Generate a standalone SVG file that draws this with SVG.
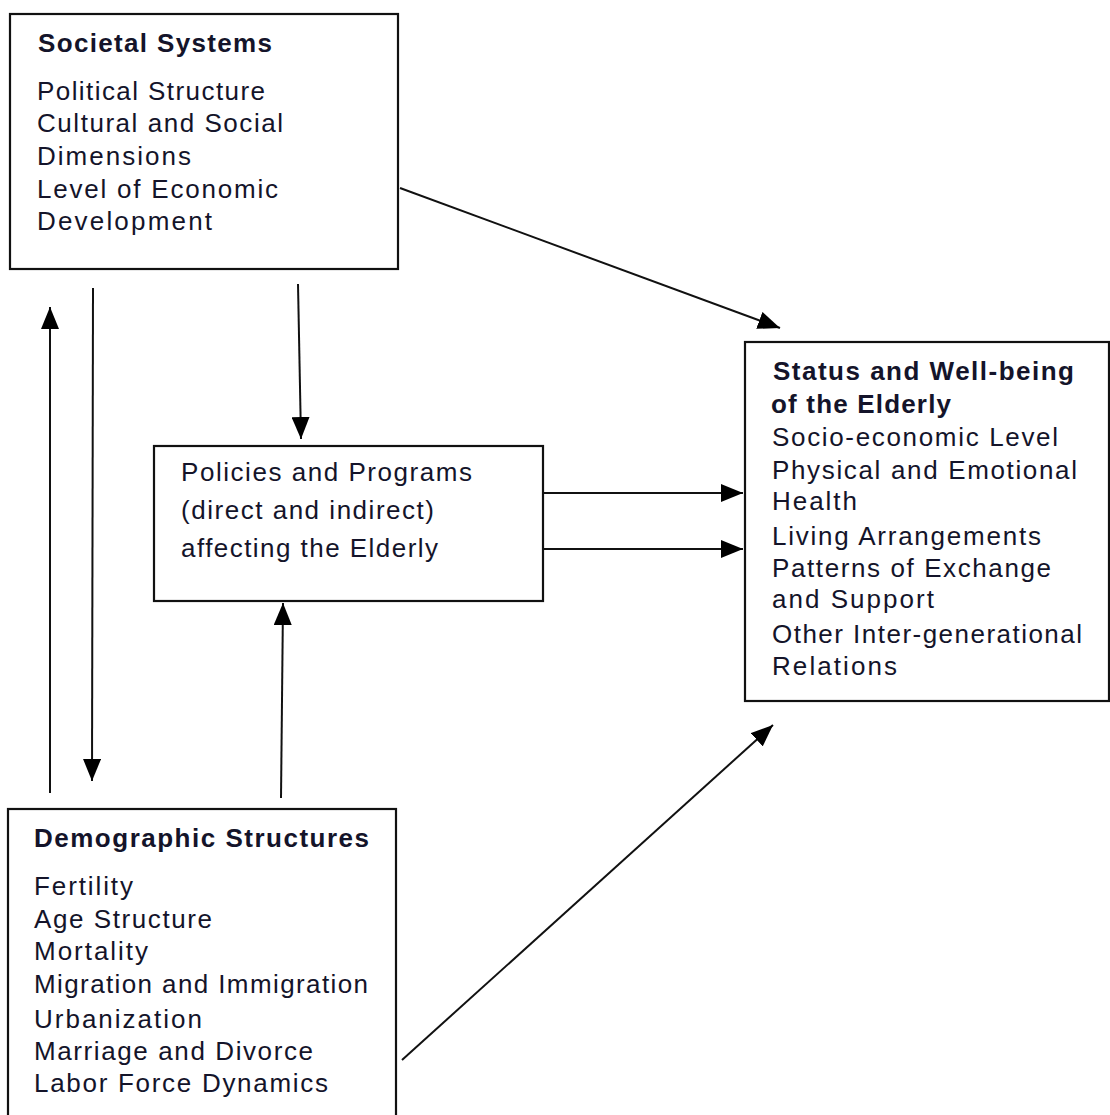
<svg xmlns="http://www.w3.org/2000/svg" width="1110" height="1115" viewBox="0 0 1110 1115">
<style>
.box{fill:#fff;stroke:#111;stroke-width:2.2}
.t{font-family:"Liberation Sans",Arial,sans-serif;font-size:26px;fill:#14142a}
.b{font-weight:bold}
.c{stroke:#111;stroke-width:2;fill:none}
</style>
<defs>
<marker id="ah" markerUnits="userSpaceOnUse" markerWidth="22" markerHeight="18" viewBox="0 0 22 18" refX="22" refY="9" orient="auto">
<path d="M0,0 L22,9 L0,18 Z" fill="#000"/>
</marker>
</defs>
<rect width="1110" height="1115" fill="#fff"/>
<g id="connectors">
<line class="c" x1="400" y1="188" x2="780" y2="328" marker-end="url(#ah)"/>
<line class="c" x1="298" y1="284" x2="301" y2="439" marker-end="url(#ah)"/>
<line class="c" x1="50" y1="793" x2="50" y2="307" marker-end="url(#ah)"/>
<line class="c" x1="93" y1="288" x2="92" y2="781" marker-end="url(#ah)"/>
<line class="c" x1="281" y1="798" x2="283" y2="603" marker-end="url(#ah)"/>
<line class="c" x1="543" y1="493" x2="743" y2="493" marker-end="url(#ah)"/>
<line class="c" x1="543" y1="549" x2="743" y2="549" marker-end="url(#ah)"/>
<line class="c" x1="402" y1="1060" x2="773" y2="725" marker-end="url(#ah)"/>
</g>
<g id="societal">
<rect class="box" x="10" y="14" width="388" height="255"/>
<text class="t b" x="38" y="52" textLength="234" lengthAdjust="spacing">Societal Systems</text>
<text class="t" x="37" y="100" textLength="228" lengthAdjust="spacing">Political Structure</text>
<text class="t" x="37" y="132" textLength="246" lengthAdjust="spacing">Cultural and Social</text>
<text class="t" x="37" y="165" textLength="154" lengthAdjust="spacing">Dimensions</text>
<text class="t" x="37" y="198" textLength="241" lengthAdjust="spacing">Level of Economic</text>
<text class="t" x="37" y="230" textLength="175" lengthAdjust="spacing">Development</text>
</g>
<g id="policies">
<rect class="box" x="154" y="446" width="389" height="155"/>
<text class="t" x="181" y="481" textLength="291" lengthAdjust="spacing">Policies and Programs</text>
<text class="t" x="181" y="519" textLength="253" lengthAdjust="spacing">(direct and indirect)</text>
<text class="t" x="181" y="557" textLength="257" lengthAdjust="spacing">affecting the Elderly</text>
</g>
<g id="status">
<rect class="box" x="745" y="342" width="364" height="359"/>
<text class="t b" x="773" y="380" textLength="301" lengthAdjust="spacing">Status and Well-being</text>
<text class="t b" x="771" y="413" textLength="180" lengthAdjust="spacing">of the Elderly</text>
<text class="t" x="772" y="446" textLength="286" lengthAdjust="spacing">Socio-economic Level</text>
<text class="t" x="772" y="479" textLength="305" lengthAdjust="spacing">Physical and Emotional</text>
<text class="t" x="772" y="510" textLength="85" lengthAdjust="spacing">Health</text>
<text class="t" x="772" y="545" textLength="269" lengthAdjust="spacing">Living Arrangements</text>
<text class="t" x="772" y="577" textLength="279" lengthAdjust="spacing">Patterns of Exchange</text>
<text class="t" x="772" y="608" textLength="162" lengthAdjust="spacing">and Support</text>
<text class="t" x="772" y="643" textLength="310" lengthAdjust="spacing">Other Inter-generational</text>
<text class="t" x="772" y="675" textLength="125" lengthAdjust="spacing">Relations</text>
</g>
<g id="demographic">
<rect class="box" x="8" y="809" width="388" height="310"/>
<text class="t b" x="34" y="847" textLength="335" lengthAdjust="spacing">Demographic Structures</text>
<text class="t" x="34" y="895" textLength="99" lengthAdjust="spacing">Fertility</text>
<text class="t" x="34" y="928" textLength="178" lengthAdjust="spacing">Age Structure</text>
<text class="t" x="34" y="960" textLength="114" lengthAdjust="spacing">Mortality</text>
<text class="t" x="34" y="993" textLength="334" lengthAdjust="spacing">Migration and Immigration</text>
<text class="t" x="34" y="1028" textLength="168" lengthAdjust="spacing">Urbanization</text>
<text class="t" x="34" y="1060" textLength="279" lengthAdjust="spacing">Marriage and Divorce</text>
<text class="t" x="34" y="1092" textLength="294" lengthAdjust="spacing">Labor Force Dynamics</text>
</g>
</svg>
